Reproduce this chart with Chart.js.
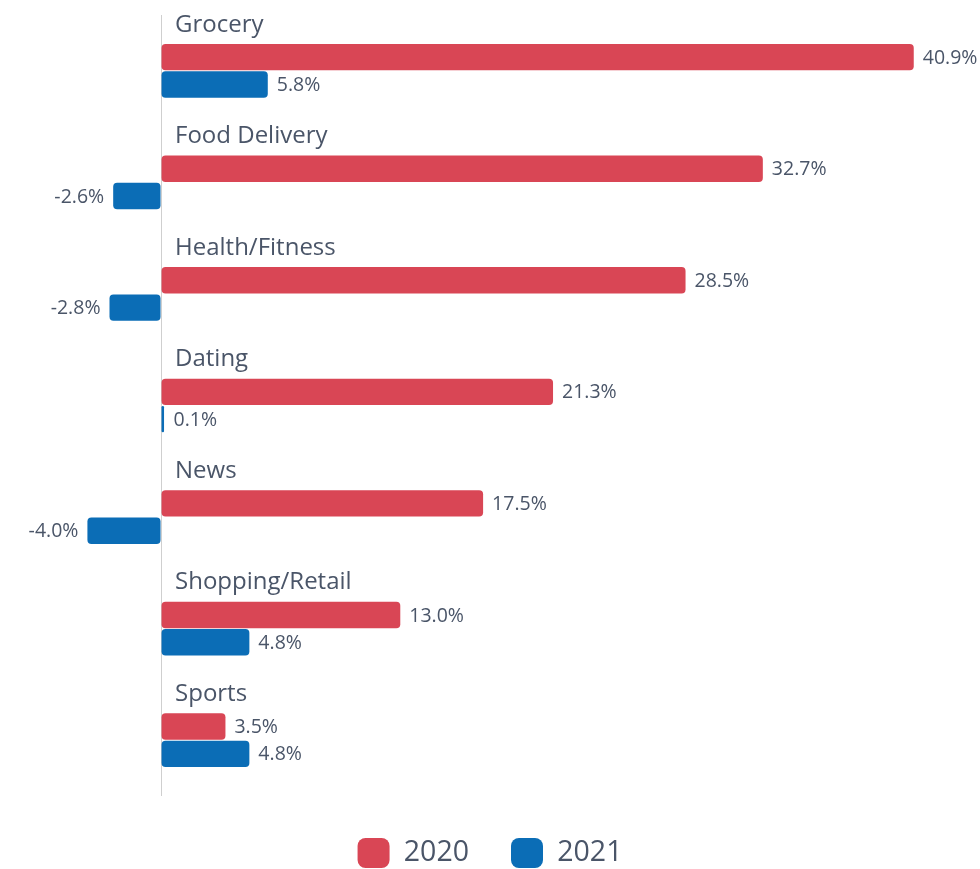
<!DOCTYPE html>
<html>
<head>
<meta charset="utf-8">
<title>App category growth 2020 vs 2021</title>
<script src="https://cdn.jsdelivr.net/npm/chart.js@4"></script>
<style>
    html, body { margin: 0; padding: 0; background: #fff; overflow: hidden; }
    #wrap { width: 980px; height: 878px; position: relative; }
</style>
</head>
<body>
<div id="wrap"><canvas id="growthChart"></canvas></div>
<script>
const categories = ['Grocery', 'Food Delivery', 'Health/Fitness', 'Dating', 'News', 'Shopping/Retail', 'Sports'];
const growth2020 = [40.9, 32.7, 28.5, 21.3, 17.5, 13.0, 3.5];
const growth2021 = [5.8, -2.6, -2.8, 0.1, -4.0, 4.8, 4.8];
const seriesNames = ['2020', '2021'];

const RED = '#d94655';
const BLUE = '#0b6db6';
const TEXT = '#4a5568';
const FONT = "'Open Sans', 'Noto Sans', sans-serif";

// category name above each pair of bars, and the value next to each bar end
const barLabels = {
    id: 'barLabels',
    afterDatasetsDraw(chart) {
        const ctx = chart.ctx;
        const x = chart.scales.x;
        const y = chart.scales.y;
        ctx.save();

        ctx.fillStyle = TEXT;
        ctx.font = '24px ' + FONT;
        ctx.textAlign = 'left';
        ctx.textBaseline = 'middle';
        categories.forEach((name, i) => {
            ctx.fillText(name, x.getPixelForValue(0) + 14, y.getPixelForValue(i) - 46);
        });

        ctx.font = '19.5px ' + FONT;
        chart.data.datasets.forEach((ds, di) => {
            chart.getDatasetMeta(di).data.forEach((bar, i) => {
                const v = ds.data[i];
                const text = v.toFixed(1) + '%';
                if (v < 0) {
                    ctx.textAlign = 'right';
                    ctx.fillText(text, bar.x - 9, bar.y + 1);
                } else {
                    ctx.textAlign = 'left';
                    ctx.fillText(text, Math.max(bar.x, bar.base + 3) + 9, bar.y + 1);
                }
            });
        });
        ctx.restore();
    }
};

const ctx = document.getElementById('growthChart').getContext('2d');

new Chart(ctx, {
    type: 'bar',
    data: {
        labels: categories,
        datasets: [{
            label: seriesNames[0],
            data: growth2020,
            backgroundColor: RED
        }, {
            label: seriesNames[1],
            data: growth2021,
            backgroundColor: BLUE
        }]
    },
    options: {
        indexAxis: 'y',
        responsive: true,
        maintainAspectRatio: false,
        animation: false,
        layout: { padding: { top: 15, left: 0, right: 0, bottom: 0 } },
        datasets: {
            bar: {
                categoryPercentage: 0.49,
                barPercentage: 0.965,
                borderRadius: 4,
                borderSkipped: false,
                minBarLength: 3
            }
        },
        scales: {
            x: {
                min: -8.75,
                max: 44.5,
                ticks: { display: false, stepSize: 10 },
                grid: {
                    drawTicks: false,
                    color: c => c.tick && c.tick.value === 0 ? '#cfcfcf' : 'rgba(0,0,0,0)'
                },
                border: { display: false }
            },
            y: {
                display: false
            }
        },
        plugins: {
            tooltip: { enabled: false },
            legend: {
                position: 'bottom',
                labels: {
                    color: TEXT,
                    font: { family: FONT, size: 28.5 },
                    boxWidth: 32,
                    boxHeight: 30,
                    useBorderRadius: true,
                    borderRadius: 8,
                    padding: 42
                }
            }
        }
    },
    plugins: [barLabels]
});
</script>
</body>
</html>
